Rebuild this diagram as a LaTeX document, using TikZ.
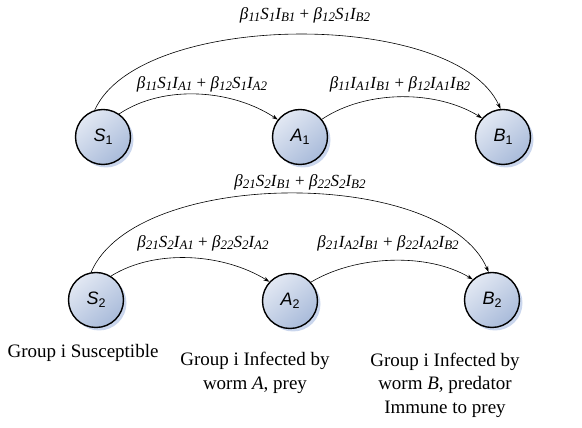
\documentclass[tikz,border=0pt]{standalone}
\usepackage{fontspec}
\setmainfont{Liberation Serif}
\newfontfamily\arialf{Liberation Sans}
\usetikzlibrary{arrows.meta,shadows}
\definecolor{nodelight}{HTML}{E2E8F3}
\definecolor{nodedark}{HTML}{A9BBDA}
\definecolor{shadowblue}{HTML}{9FB4DE}
\newcommand\lo[1]{\raisebox{-0.3ex}{\fontsize{13}{13}\selectfont\itshape #1}}
\newcommand\nsub[1]{\raisebox{-0.35ex}{\fontsize{12.5}{12.5}\selectfont #1}}
\tikzset{
  state/.style={circle, minimum size=55pt, inner sep=0pt, draw=black, line width=1.4pt,
    top color=nodelight, bottom color=nodedark, shading angle=40,
    drop shadow={shadow xshift=3pt, shadow yshift=-3pt, fill=shadowblue, opacity=0.55},
    font=\arialf\fontsize{18}{18}\selectfont},
  conn/.style={line width=0.6pt, -{Stealth[length=6pt,width=4pt]}},
  rate/.style={font=\fontsize{17}{18}\selectfont\itshape, inner sep=0pt},
  caption/.style={font=\fontsize{19}{23.5}\selectfont, align=center, inner sep=0pt}
}
\begin{document}
\begin{tikzpicture}[x=1pt,y=1pt]
\useasboundingbox (0,0) rectangle (582,428);
% nodes
\node[state] (S1) at (103,291) {\textit{S}\nsub{1}};
\node[state] (A1) at (300,291) {\textit{A}\nsub{1}};
\node[state] (B1) at (503,291) {\textit{B}\nsub{1}};
\node[state] (S2) at (96,128) {\textit{S}\nsub{2}};
\node[state] (A2) at (290,127) {\textit{A}\nsub{2}};
\node[state] (B2) at (492,128) {\textit{B}\nsub{2}};
% connectors row 1
\draw[conn] (S1.107) .. controls +(45,100) and +(-45,100) .. (B1.95);
\draw[conn] (S1.55) .. controls +(45,30) and +(-45,30) .. (A1.142);
\draw[conn] (A1.39) .. controls +(45,30) and +(-45,28) .. (B1.138);
% connectors row 2
\draw[conn] (S2.100) .. controls +(45,105) and +(-45,105) .. (B2.97);
\draw[conn] (S2.58) .. controls +(45,28) and +(-45,28) .. (A2.137);
\draw[conn] (A2.42) .. controls +(45,27) and +(-45,27) .. (B2.133);
% rate labels
\node[rate] (r1) at (305,413) {β\lo{11}S\lo{1}I\lo{B1} \upshape{+} \itshape β\lo{12}S\lo{1}I\lo{B2}};
\node[rate] (r2) at (202,344) {β\lo{11}S\lo{1}I\lo{A1} \upshape{+} \itshape β\lo{12}S\lo{1}I\lo{A2}};
\node[rate] (r3) at (400,344) {β\lo{11}I\lo{A1}I\lo{B1} \upshape{+} \itshape β\lo{12}I\lo{A1}I\lo{B2}};
\node[rate] (r4) at (300,246) {β\lo{21}S\lo{2}I\lo{B1} \upshape{+} \itshape β\lo{22}S\lo{2}I\lo{B2}};
\node[rate] (r5) at (203,185) {β\lo{21}S\lo{2}I\lo{A1} \upshape{+} \itshape β\lo{22}S\lo{2}I\lo{A2}};
\node[rate] (r6) at (388,185) {β\lo{21}I\lo{A2}I\lo{B1} \upshape{+} \itshape β\lo{22}I\lo{A2}I\lo{B2}};
% captions
\node[caption] (c1) at (83,75) {Group i Susceptible};
\node[caption] (c2) at (255,55) {Group i Infected by\\worm \textit{A}, prey};
\node[caption] (c3) at (445,43) {Group i Infected by\\worm \textit{B}, predator\\Immune to prey};
\end{tikzpicture}
\end{document}
